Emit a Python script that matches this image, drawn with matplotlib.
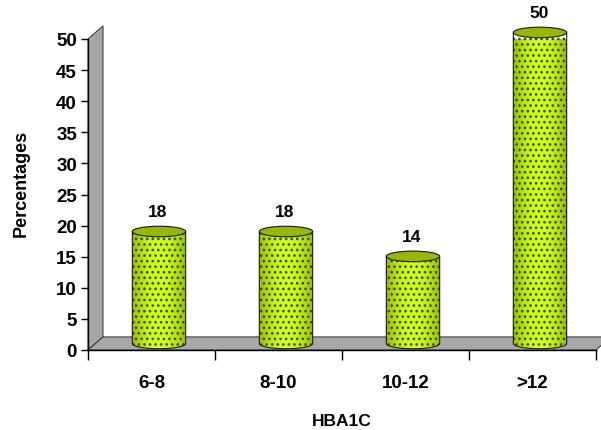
import numpy as np
import matplotlib.pyplot as plt
from matplotlib.patches import Polygon, Ellipse, PathPatch
from matplotlib.path import Path

plt.rcParams['font.family'] = ['Liberation Sans', 'DejaVu Sans']
plt.rcParams['font.weight'] = 'bold'
plt.rcParams['hatch.linewidth'] = 1.1

# HbA1c groups and share of patients (%)
groups = ['6-8', '8-10', '10-12', '>12']
percentages = [18, 18, 14, 50]
y_ticks = list(range(0, 55, 5))

# 3D look: depth of wall/floor in data units, cylinder size
depth_x, depth_y = 0.118, 2.1
cyl_w, cyl_ry = 0.42, 0.85

fig = plt.figure(figsize=(6.01, 4.31), dpi=100)
ax = fig.add_axes([88 / 601, 80 / 431, 508 / 601, 311 / 431])
ax.set_xlim(-0.5, 3.5)
ax.set_ylim(0, 50)

# back wall and floor
wall = Polygon([(-0.5, 0), (-0.5 + depth_x, depth_y), (-0.5 + depth_x, 50 + depth_y), (-0.5, 50)],
               closed=True, facecolor='#a6a6a6', edgecolor='#404040', lw=0.8, clip_on=False, zorder=1)
floor = Polygon([(-0.5, 0), (3.5, 0), (3.5 + depth_x, depth_y), (-0.5 + depth_x, depth_y)],
                closed=True, facecolor='#a8a8a8', edgecolor='#404040', lw=0.8, clip_on=False, zorder=1)
ax.add_patch(wall)
ax.add_patch(floor)

# horizontal shading across a cylinder
t = np.linspace(-1, 1, 64)
light = np.cos(t * np.pi / 2.6) ** 1.2
c_dark = np.array([0.50, 0.64, 0.0])
c_light = np.array([0.82, 1.0, 0.12])
shade = (c_dark[None, :] + (c_light - c_dark)[None, :] * light[:, None])[None, :, :]

for i, v in enumerate(percentages):
    cx = i + depth_x / 2
    base = depth_y / 2
    top = v + depth_y / 2
    left, right = cx - cyl_w / 2, cx + cyl_w / 2
    ang = np.linspace(np.pi, 2 * np.pi, 40)
    arc = np.column_stack([cx + cyl_w / 2 * np.cos(ang), base + cyl_ry * np.sin(ang)])
    verts = np.vstack([[left, top], [left, base], arc, [right, base], [right, top], [left, top]])
    body = Path(verts, closed=True)

    clip = PathPatch(body, transform=ax.transData, facecolor='none', edgecolor='none')
    ax.add_patch(clip)
    im = ax.imshow(shade, extent=(left, right, base - cyl_ry, top), aspect='auto',
                   zorder=3, interpolation='bilinear')
    im.set_clip_path(clip)
    im.set_clip_on(True)

    ax.add_patch(PathPatch(body, facecolor='none', edgecolor='#3d4d00', hatch='...',
                           lw=0, zorder=4, clip_on=False))
    ax.add_patch(PathPatch(body, facecolor='none', edgecolor='#1a1a1a', lw=0.8,
                           zorder=5, clip_on=False))
    ax.add_patch(Ellipse((cx, top), cyl_w, 2 * cyl_ry, facecolor='#98b800',
                         edgecolor='#1a1a1a', lw=0.8, zorder=6, clip_on=False))
    ax.text(i + 0.05, v + 4.3, str(v), ha='center', va='center', fontsize=12.5,
            fontweight='bold', zorder=2, clip_on=False)

ax.set_xlim(-0.5, 3.5)
ax.set_ylim(0, 50)

for s in ['top', 'right']:
    ax.spines[s].set_visible(False)
ax.spines['left'].set_linewidth(1.0)
ax.spines['bottom'].set_linewidth(1.0)
ax.spines['left'].set_zorder(7)
ax.spines['bottom'].set_zorder(7)

ax.set_yticks(y_ticks)
ax.tick_params(axis='y', direction='out', length=5, width=1, pad=3, labelsize=13.5)
ax.set_xticks(range(len(groups)))
ax.set_xticklabels(groups)
ax.set_xticks([-0.5, 0.5, 1.5, 2.5, 3.5], minor=True)
ax.tick_params(axis='x', which='major', length=0, pad=17, labelsize=13.5)
ax.tick_params(axis='x', which='minor', direction='out', length=7, width=1)

ax.set_xlabel('HBA1C', fontsize=12.5, fontweight='bold', labelpad=16)
ax.set_ylabel('Percentages', fontsize=13, fontweight='bold')
ax.yaxis.set_label_coords(-0.115, 0.54)
ax.patch.set_visible(False)

fig.savefig('out.png', dpi=100)
